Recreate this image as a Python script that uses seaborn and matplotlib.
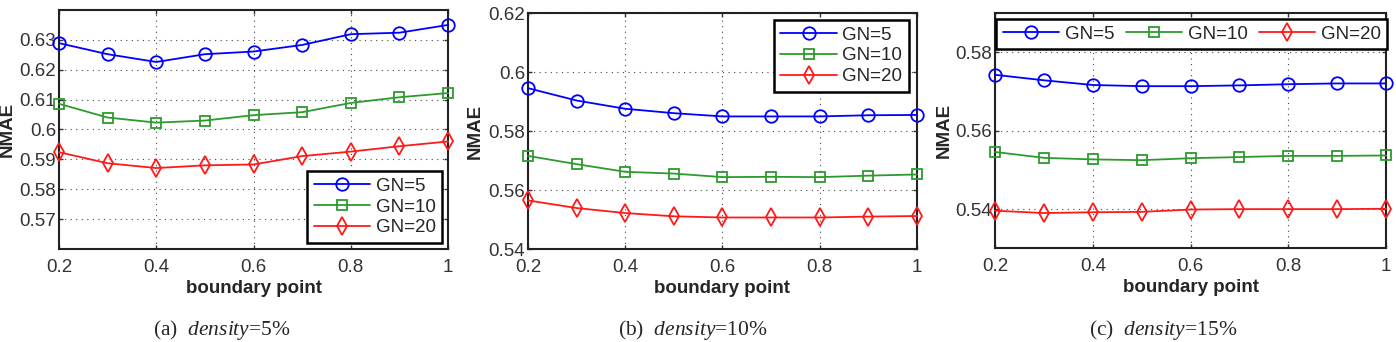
import numpy as np
import pandas as pd
import matplotlib
matplotlib.use("Agg")
import matplotlib.pyplot as plt
import seaborn as sns

# boundary point values (x axis)
boundary = [0.2, 0.3, 0.4, 0.5, 0.6, 0.7, 0.8, 0.9, 1.0]
series_names = ["GN=5", "GN=10", "GN=20"]

# (a) density = 5%
d5_gn5 = [0.6289, 0.6252, 0.6226, 0.6252, 0.6261, 0.6283, 0.6319, 0.6324, 0.6350]
d5_gn10 = [0.6086, 0.6040, 0.6023, 0.6030, 0.6048, 0.6058, 0.6089, 0.6108, 0.6122]
d5_gn20 = [0.5924, 0.5887, 0.5871, 0.5880, 0.5883, 0.5911, 0.5926, 0.5944, 0.5960]

# (b) density = 10%
d10_gn5 = [0.5946, 0.5904, 0.5876, 0.5861, 0.5850, 0.5850, 0.5850, 0.5854, 0.5855]
d10_gn10 = [0.5716, 0.5688, 0.5662, 0.5656, 0.5644, 0.5645, 0.5644, 0.5649, 0.5653]
d10_gn20 = [0.5565, 0.5539, 0.5522, 0.5511, 0.5507, 0.5507, 0.5507, 0.5510, 0.5512]

# (c) density = 15%
d15_gn5 = [0.5743, 0.5729, 0.5717, 0.5714, 0.5714, 0.5716, 0.5719, 0.5721, 0.5721]
d15_gn10 = [0.5546, 0.5531, 0.5527, 0.5525, 0.5530, 0.5533, 0.5536, 0.5536, 0.5537]
d15_gn20 = [0.5396, 0.5390, 0.5392, 0.5393, 0.5399, 0.5400, 0.5400, 0.5400, 0.5401]

densities = ["5%", "10%", "15%"]
panel_letters = ["(a)", "(b)", "(c)"]
y_limits = [(0.56, 0.64), (0.54, 0.62), (0.53, 0.59)]
y_ticks = [[0.57, 0.58, 0.59, 0.60, 0.61, 0.62, 0.63],
           [0.54, 0.56, 0.58, 0.60, 0.62],
           [0.54, 0.56, 0.58]]
y_ticklabels = [["0.57", "0.58", "0.59", "0.6", "0.61", "0.62", "0.63"],
                ["0.54", "0.56", "0.58", "0.6", "0.62"],
                ["0.54", "0.56", "0.58"]]
x_ticks = [0.2, 0.4, 0.6, 0.8, 1.0]
x_ticklabels = ["0.2", "0.4", "0.6", "0.8", "1"]

panels = [
    [d5_gn5, d5_gn10, d5_gn20],
    [d10_gn5, d10_gn10, d10_gn20],
    [d15_gn5, d15_gn10, d15_gn20],
]

sns.set_style("ticks")
plt.rcParams['font.family'] = ['Liberation Sans', 'DejaVu Sans']
plt.rcParams['xtick.direction'] = 'in'
plt.rcParams['ytick.direction'] = 'in'
plt.rcParams['mathtext.fontset'] = 'custom'
plt.rcParams['mathtext.rm'] = 'Liberation Serif'
plt.rcParams['mathtext.it'] = 'Liberation Serif:italic'

colors = ["#0000ff", "#2e9a2e", "#ff1a1a"]
markers = ["o", "s", "d"]
FS = 13.5

fig = plt.figure(figsize=(13.96, 3.42), dpi=100)
axes_rects = [
    [0.0423, 0.2719, 0.2787, 0.6989],
    [0.3782, 0.2719, 0.2787, 0.6892],
    [0.7128, 0.2740, 0.2801, 0.6870],
]
ylabel_x = [-0.111, -0.114, -0.108]
caption_x = [0.159, 0.496, 0.833]

for i, rect in enumerate(axes_rects):
    ax = fig.add_axes(rect)
    rows = []
    for name, vals in zip(series_names, panels[i]):
        for b, v in zip(boundary, vals):
            rows.append({"boundary": b, "NMAE": v, "series": name})
    df = pd.DataFrame(rows)

    for name, col, mk in zip(series_names, colors, markers):
        sub = df[df["series"] == name]
        sns.lineplot(data=sub, x="boundary", y="NMAE", ax=ax, color=col,
                     marker=mk, markersize=9 if mk != "s" else 7.5,
                     markerfacecolor="none", markeredgecolor=col,
                     markeredgewidth=1.3, linewidth=1.3, label=name,
                     clip_on=False, zorder=3)

    ax.set_xlim(0.2, 1.0)
    ax.set_ylim(*y_limits[i])
    ax.set_xticks(x_ticks)
    ax.set_xticklabels(x_ticklabels)
    ax.set_yticks(y_ticks[i])
    ax.set_yticklabels(y_ticklabels[i])
    ax.tick_params(labelsize=FS, colors="#333333", length=3, width=1,
                   top=True, right=True)
    ax.tick_params(axis='x', pad=7)
    ax.tick_params(axis='y', pad=2)
    ax.grid(True, linestyle=(0, (1, 4)), color="#444444", linewidth=0.8)
    for sp in ax.spines.values():
        sp.set_linewidth(1.5)
        sp.set_color("#222222")
    ax.set_xlabel("boundary point", fontsize=FS, fontweight="bold", labelpad=3)
    ax.set_ylabel("NMAE", fontsize=FS, fontweight="bold")
    ax.yaxis.set_label_coords(ylabel_x[i], 0.5)

    common = dict(borderaxespad=0, fontsize=FS, handlelength=3.0,
                  handletextpad=0.3, fancybox=False, framealpha=1,
                  borderpad=0.35)
    if i == 0:
        leg = ax.legend(loc="lower right", bbox_to_anchor=(0.985, 0.025),
                        labelspacing=0.2, **common)
    elif i == 1:
        leg = ax.legend(loc="upper right", bbox_to_anchor=(0.979, 0.972),
                        labelspacing=0.2, **common)
    else:
        leg = ax.legend(loc="upper center", bbox_to_anchor=(0.503, 0.975),
                        ncol=3, columnspacing=0.6, **common)
    leg.get_frame().set_edgecolor("black")
    leg.get_frame().set_linewidth(1.8)
    leg.set_zorder(5)

    fig.text(caption_x[i], 0.034,
             panel_letters[i] + "  $\\mathit{density}$=" + densities[i],
             ha="center", va="center", fontsize=15.5, family="Liberation Serif")

fig.savefig("out.png", dpi=100)
